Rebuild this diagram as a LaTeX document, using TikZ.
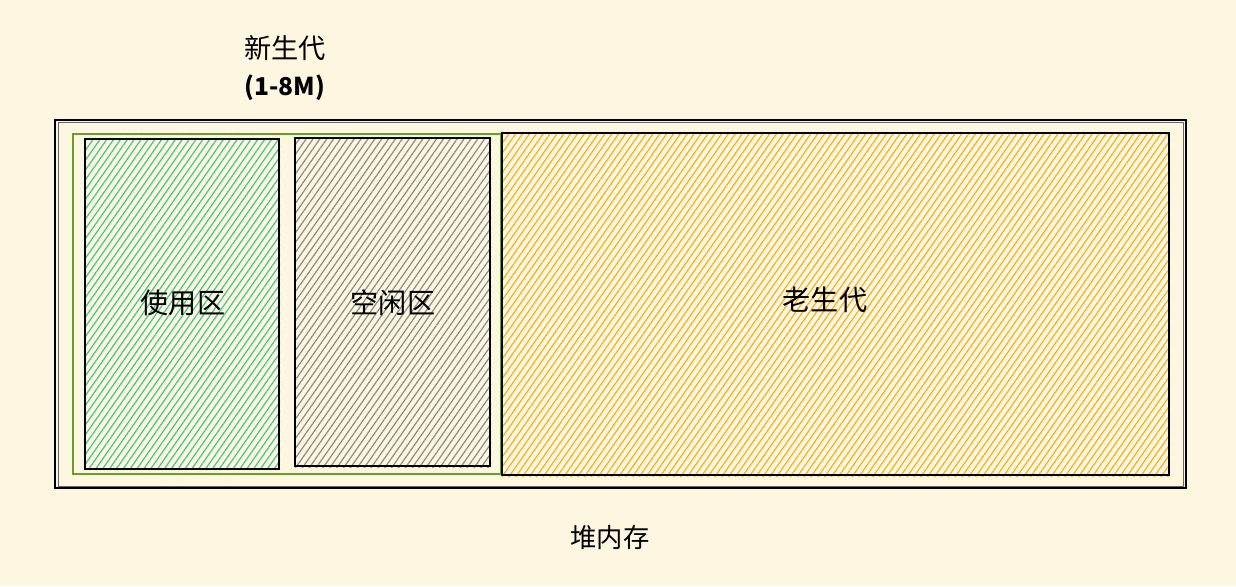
\documentclass[tikz,border=0pt]{standalone}
\usepackage{fontspec}
\setmainfont{Noto Sans CJK SC}
\usetikzlibrary{patterns.meta}

\definecolor{paper}{RGB}{253,247,226}
\definecolor{youngframe}{RGB}{104,158,40}
\definecolor{usedhatch}{RGB}{70,198,142}
\definecolor{freehatch}{RGB}{140,140,136}
\definecolor{oldhatch}{RGB}{248,176,30}

\tikzset{
  area/.style={draw=black, line width=1.3pt},
  hatch/.style={pattern={Lines[angle=55,distance=3.2pt,line width=0.7pt]}, pattern color=#1},
  label/.style={font=\fontsize{16}{19}\selectfont, text=black}
}

\begin{document}
\begin{tikzpicture}[x=0.02cm,y=-0.02cm]
  % Draw background
  \fill[paper] (0,0) rectangle (1236,586);
  \useasboundingbox (0,0) rectangle (1236,586);

  % Draw heap frame
  \draw[black, line width=0.9pt] (55,120) rectangle (1186,488);
  \draw[black!60, line width=0.5pt] (58,122) rectangle (1183,486);

  % Draw young generation frame
  \draw[youngframe, line width=1.4pt] (73,134) rectangle (501,474);

  % Show used space
  \fill[hatch=usedhatch] (85,139) rectangle (280,469);
  \draw[area] (85,139) rectangle (279,469);
  \node[label] (used) at (183,303) {使用区};

  % Show free space
  \fill[hatch=freehatch] (295,138) rectangle (491,467);
  \draw[area] (295,138) rectangle (490,466);
  \node[label] (free) at (393,303) {空闲区};

  % Show old generation
  \fill[hatch=oldhatch] (502,132) rectangle (1170,476);
  \draw[area] (502,133) rectangle (1169,475);
  \node[label] (old) at (825,300) {老生代};

  % Labels
  \node[label, font=\fontsize{15.5}{18}\selectfont] (young) at (285,48) {新生代};
  \node[label, font=\fontsize{14}{16}\selectfont\bfseries] (size) at (285,88) {(1-8M)};
  \node[label, font=\fontsize{15}{18}\selectfont] (heap) at (610,537) {堆内存};
\end{tikzpicture}
\end{document}
